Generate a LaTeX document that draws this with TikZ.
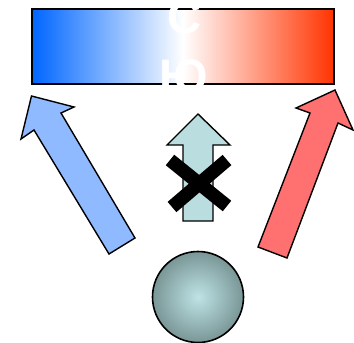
\documentclass[tikz,border=0pt]{standalone}
\usepackage{fontspec}
\newfontfamily\letterfont{Liberation Sans}
\definecolor{lblue}{RGB}{0,102,255}
\definecolor{rred}{RGB}{255,51,0}
\definecolor{arrblue}{RGB}{143,186,255}
\definecolor{arrred}{RGB}{255,112,112}
\definecolor{arrcyan}{RGB}{186,222,224}
\definecolor{ballin}{RGB}{190,228,230}
\definecolor{ballout}{RGB}{122,150,150}
\begin{document}
\begin{tikzpicture}[x=1pt,y=-1pt,
  arrowshape/.style={draw=black,line width=1.4pt,line join=miter},
  pole/.style={text=white,font=\letterfont\bfseries\fontsize{47}{47}\selectfont,inner sep=0pt,anchor=base}]
\useasboundingbox (0,0) rectangle (354,343);
% magnet bar
\shade[left color=lblue,right color=rred,middle color=white,draw=black,line width=1.6pt]
  (32,9) rectangle (334,84);
\node[pole] (north) at (184,33) {С};
\node[pole] (south) at (183.5,92) {Ю};
% blue arrow
\draw[arrowshape,fill=arrblue] (109,254) -- (135,238) -- (61,113) -- (74,107) -- (31.5,96) -- (21,139) -- (34,130) -- cycle;
% red arrow
\draw[arrowshape,fill=arrred] (258,247) -- (287,258) -- (338,123) -- (353,130) -- (335,90) -- (296,108) -- (310,113) -- cycle;
% middle arrow
\draw[arrowshape,fill=arrcyan] (183,221) -- (213,221) -- (213,145) -- (230,145) -- (198,114) -- (167,145) -- (183,145) -- cycle;
% cross
\draw[line width=13.5pt] (170,160) -- (227,206);
\draw[line width=13.5pt] (227,160) -- (172,207);
% ball
\shade[inner color=ballin,outer color=ballout,draw=black,line width=1.6pt] (198,297) circle (45.5);
\end{tikzpicture}
\end{document}
